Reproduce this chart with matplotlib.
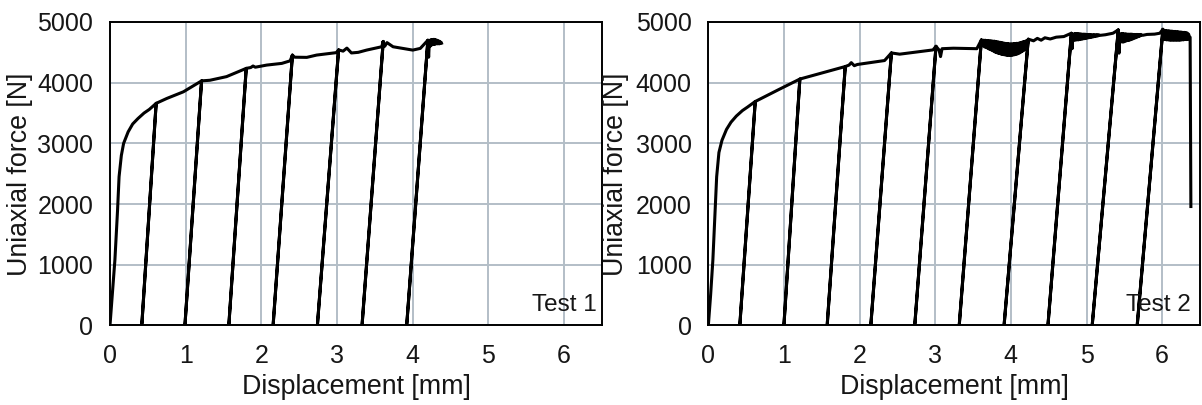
import numpy as np
import matplotlib
matplotlib.use("Agg")
import matplotlib.pyplot as plt

plt.rcParams['font.family'] = ['Liberation Sans', 'DejaVu Sans']

# ---------------- Test 1 ----------------
# loading envelope (displacement mm, force N)
t1_env_x = [0.00, 0.03, 0.065, 0.10, 0.12, 0.15, 0.18, 0.24, 0.30, 0.37, 0.45, 0.52,
            0.61, 0.75, 0.97, 1.21, 1.32, 1.54, 1.80, 1.86, 1.89, 1.92, 2.07, 2.27,
            2.38, 2.41, 2.44, 2.60, 2.73, 2.99, 3.02, 3.08, 3.13, 3.19, 3.28, 3.39,
            3.59, 3.61, 3.63, 3.66, 3.74, 4.00, 4.10, 4.20]
t1_env_f = [0, 500, 1080, 1900, 2450, 2800, 3000, 3190, 3320, 3410, 3500, 3560,
            3660, 3740, 3850, 4030, 4040, 4100, 4236, 4250, 4275, 4255, 4290, 4318,
            4360, 4455, 4420, 4417, 4455, 4495, 4540, 4520, 4570, 4490, 4500, 4537,
            4592, 4680, 4600, 4660, 4592, 4537, 4565, 4700]
# scatter in the force signal at the end of the test
t1_tail_x = [4.21, 4.22, 4.23, 4.24, 4.25, 4.26, 4.27, 4.28, 4.29, 4.30,
             4.31, 4.32, 4.33, 4.34, 4.35, 4.36, 4.37, 4.38]
t1_tail_f = [4420, 4690, 4600, 4710, 4620, 4710, 4630, 4715, 4630, 4710,
             4640, 4700, 4640, 4690, 4640, 4680, 4645, 4650]
# unloading cycles: displacement at unloading start and residual displacement
t1_peak_x = [0.61, 1.21, 1.80, 2.41, 3.02, 3.61, 4.20]
t1_resid_x = [0.42, 0.99, 1.57, 2.155, 2.74, 3.33, 3.92]

# ---------------- Test 2 ----------------
t2_env_x = [0.00, 0.03, 0.06, 0.09, 0.11, 0.14, 0.18, 0.24, 0.30, 0.37, 0.45, 0.52,
            0.62, 0.92, 1.21, 1.50, 1.81, 1.86, 1.89, 1.93, 1.97, 2.33, 2.42, 2.53,
            2.97, 3.01, 3.05, 3.07, 3.09, 3.24, 3.55, 3.61,
            4.23, 4.30, 4.35, 4.40, 4.45, 4.52, 4.60, 4.70, 4.80,
            5.35, 5.42, 5.43, 5.97, 6.01, 6.38]
t2_env_f = [0, 500, 1080, 1900, 2450, 2850, 3050, 3230, 3350, 3450, 3540, 3600,
            3690, 3880, 4060, 4160, 4266, 4290, 4330, 4280, 4300, 4365, 4490, 4470,
            4540, 4600, 4540, 4430, 4560, 4568, 4560, 4705,
            4717, 4690, 4730, 4700, 4740, 4720, 4750, 4760, 4815,
            4815, 4870, 4486, 4815, 4880, 1960]
# oscillating force bands
t2_band_a_x = [3.62, 3.63, 3.64, 3.65, 3.66, 3.67, 3.68, 3.69, 3.70, 3.71, 3.72, 3.73,
               3.74, 3.75, 3.76, 3.77, 3.78, 3.79, 3.80, 3.81, 3.82, 3.83, 3.84, 3.85,
               3.86, 3.87, 3.88, 3.89, 3.90, 3.91, 3.92, 3.93, 3.94, 3.95, 3.96, 3.97,
               3.98, 3.99, 4.00, 4.01, 4.02, 4.03, 4.04, 4.05, 4.06, 4.07, 4.08, 4.09,
               4.10, 4.11, 4.12, 4.13, 4.14, 4.15, 4.16, 4.17, 4.18, 4.19, 4.20, 4.21]
t2_band_a_f = [4700, 4610, 4700, 4590, 4700, 4580, 4695, 4570, 4695, 4555, 4690, 4545,
               4690, 4530, 4685, 4520, 4685, 4505, 4680, 4495, 4675, 4485, 4670, 4480,
               4665, 4470, 4660, 4465, 4655, 4460, 4650, 4455, 4645, 4450, 4645, 4450,
               4640, 4450, 4640, 4450, 4640, 4455, 4645, 4460, 4645, 4465, 4650, 4475,
               4650, 4485, 4660, 4500, 4665, 4515, 4675, 4530, 4680, 4550, 4690, 4580]
t2_band_b_x = [4.81, 4.82, 4.83, 4.84, 4.85, 4.86, 4.87, 4.88, 4.89, 4.90, 4.91, 4.92,
               4.93, 4.94, 4.95, 4.96, 4.97, 4.98, 4.99, 5.00, 5.01, 5.02, 5.03, 5.04,
               5.05, 5.06, 5.07, 5.08, 5.09, 5.10, 5.11, 5.12, 5.13, 5.14, 5.15, 5.16,
               5.18, 5.25]
t2_band_b_f = [4560, 4790, 4700, 4810, 4700, 4810, 4705, 4810, 4705, 4805, 4710, 4805,
               4715, 4800, 4720, 4800, 4725, 4800, 4730, 4795, 4735, 4795, 4740, 4795,
               4745, 4790, 4750, 4790, 4755, 4790, 4760, 4790, 4765, 4790, 4770, 4790,
               4780, 4790]
t2_band_c_x = [5.44, 5.45, 5.46, 5.47, 5.48, 5.49, 5.50, 5.51, 5.52, 5.53, 5.54, 5.55,
               5.56, 5.57, 5.58, 5.59, 5.60, 5.61, 5.62, 5.63, 5.64, 5.65, 5.66, 5.67,
               5.68, 5.69, 5.70, 5.71, 5.72, 5.74, 5.80, 5.90]
t2_band_c_f = [4800, 4680, 4810, 4670, 4810, 4670, 4805, 4680, 4805, 4690, 4800, 4695,
               4800, 4700, 4800, 4710, 4800, 4720, 4795, 4730, 4795, 4740, 4795, 4750,
               4795, 4760, 4795, 4770, 4795, 4780, 4795, 4800]
t2_band_d_x = [6.02, 6.03, 6.04, 6.05, 6.06, 6.07, 6.08, 6.09, 6.10, 6.11, 6.12, 6.13,
               6.14, 6.15, 6.16, 6.17, 6.18, 6.19, 6.20, 6.21, 6.22, 6.23, 6.24, 6.25,
               6.26, 6.27, 6.28, 6.29, 6.30, 6.31, 6.32, 6.33, 6.34, 6.35, 6.36, 6.37]
t2_band_d_f = [4720, 4860, 4710, 4860, 4705, 4855, 4705, 4855, 4700, 4850, 4700, 4850,
               4700, 4845, 4700, 4845, 4700, 4840, 4700, 4840, 4700, 4835, 4700, 4835,
               4705, 4830, 4705, 4830, 4710, 4825, 4710, 4820, 4715, 4800, 4740, 4750]
t2_peak_x = [0.62, 1.21, 1.81, 2.42, 3.01, 3.61, 4.23, 4.80, 5.42, 6.01]
t2_resid_x = [0.416, 0.999, 1.571, 2.148, 2.729, 3.317, 3.91, 4.49, 5.075, 5.67]

x_ticks = [0, 1, 2, 3, 4, 5, 6]
y_ticks = [0, 1000, 2000, 3000, 4000, 5000]


def merge(pairs):
    """Join envelope pieces into one record ordered by displacement."""
    x = np.concatenate([np.asarray(p[0], float) for p in pairs])
    f = np.concatenate([np.asarray(p[1], float) for p in pairs])
    order = np.argsort(x, kind='stable')
    return x[order], f[order]


def build_path(env_x, env_f, peak_x, resid_x):
    """Walk the loading envelope and insert an unload/reload excursion
    down to zero force at every unloading point."""
    xs, fs = [], []
    for x, f in zip(env_x, env_f):
        xs.append(x)
        fs.append(f)
        for px, rx in zip(peak_x, resid_x):
            if np.isclose(x, px):
                xs += [rx, x]
                fs += [0, f]
    return np.array(xs), np.array(fs)


t1_x, t1_f = merge([(t1_env_x, t1_env_f), (t1_tail_x, t1_tail_f)])
t2_x, t2_f = merge([(t2_env_x, t2_env_f), (t2_band_a_x, t2_band_a_f),
                    (t2_band_b_x, t2_band_b_f), (t2_band_c_x, t2_band_c_f),
                    (t2_band_d_x, t2_band_d_f)])

TEXT = '#161616'
GRID = '#b3bec7'

fig = plt.figure(figsize=(12.02, 4.05), dpi=100)
ax1 = fig.add_axes([0.0915, 0.1963, 0.4093, 0.7494])
ax2 = fig.add_axes([0.5893, 0.1963, 0.4090, 0.7494])

panels = [
    (ax1, t1_x, t1_f, t1_peak_x, t1_resid_x, 'Test 1', 0.989, -0.183),
    (ax2, t2_x, t2_f, t2_peak_x, t2_resid_x, 'Test 2', 0.981, -0.188),
]

for ax, ex, ef, pk, rs, name, tx, ylx in panels:
    px, pf = build_path(ex, ef, pk, rs)
    ax.plot(px, pf, color='black', lw=2.2, solid_joinstyle='round', zorder=3)

    ax.set_xlim(0, 6.5)
    ax.set_ylim(0, 5000)
    ax.set_xticks(x_ticks)
    ax.set_yticks(y_ticks)
    ax.grid(True, color=GRID, lw=1.4)
    ax.set_axisbelow(True)
    ax.tick_params(length=0, labelsize=18, labelcolor=TEXT)
    ax.tick_params(axis='x', pad=13.5)
    ax.tick_params(axis='y', pad=12)
    for sp in ax.spines.values():
        sp.set_color('black')
        sp.set_linewidth(1.4)

    ax.set_xlabel('Displacement [mm]', fontsize=19.3, color=TEXT)
    ax.set_ylabel('Uniaxial force [N]', fontsize=19.3, color=TEXT)
    ax.xaxis.label.set_va('center')
    ax.yaxis.label.set_va('center')
    ax.xaxis.set_label_coords(0.5, -0.2026)
    ax.yaxis.set_label_coords(ylx, 0.4975)

    ax.text(tx, 0.049, name, transform=ax.transAxes, ha='right', va='baseline',
            fontsize=17.5, color=TEXT, zorder=4)

fig.savefig('out.png', dpi=100)
